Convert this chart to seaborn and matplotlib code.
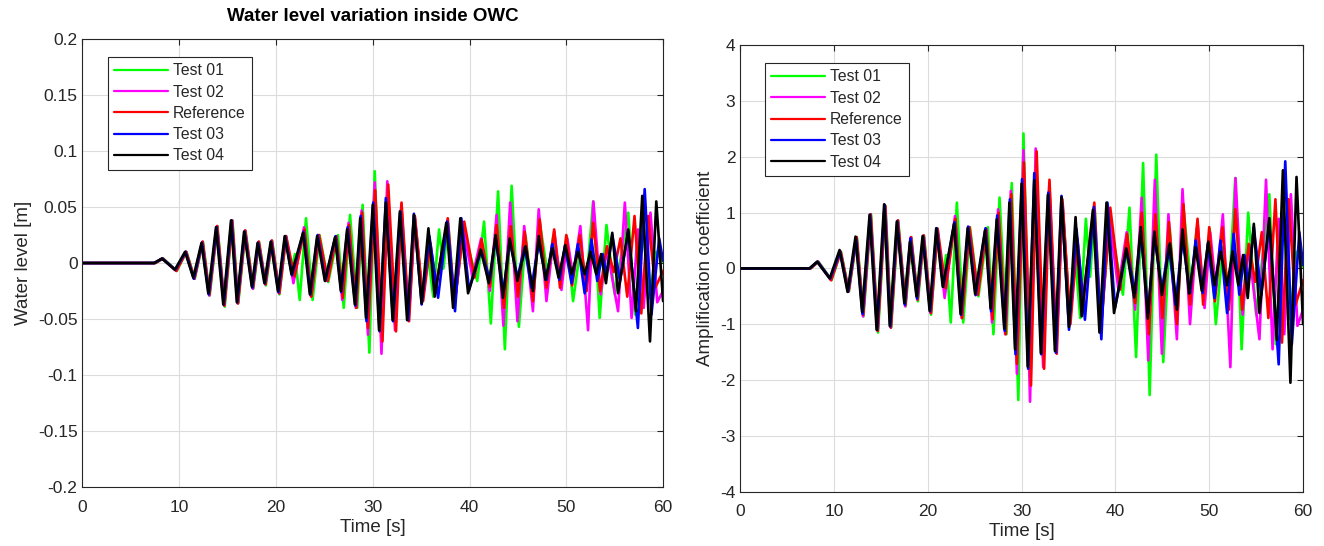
import pandas as pd
import matplotlib
matplotlib.use('Agg')
import matplotlib.pyplot as plt
import seaborn as sns

# series names and colours (MATLAB style)
names = ['Test 01', 'Test 02', 'Reference', 'Test 03', 'Test 04']
colors = ['#00ff00', '#ff00ff', '#ff0000', '#0000ff', '#000000']

# times of the crests / troughs [s]
t_test01 = [0, 7.55, 8.35, 9.75, 10.75, 11.6, 12.45, 13.15, 13.95, 14.7,
            15.5, 16.1, 16.85, 17.65, 18.25, 18.95, 19.6, 20.35, 21.05, 21.6,
            21.95, 22.45, 23.1, 23.78, 24.5, 25.4, 26.4, 27.0, 27.65, 28.4,
            28.95, 29.65, 30.2, 30.85, 31.5, 32.3, 32.95, 33.7, 34.35, 35.15,
            35.7, 36.25, 36.85, 37.3, 37.8, 38.45, 39.4, 40.2, 40.8, 41.5,
            42.2, 42.95, 43.65, 44.35, 45.1, 45.8, 46.55, 47.25, 48.1, 48.65,
            49.5, 50.05, 50.7, 51.45, 52.1, 52.77, 53.45, 54.15, 55.0, 56.4,
            57.1, 57.9, 58.6, 59.3, 60.0]
t_test02 = [0, 7.5, 8.28, 9.68, 10.7, 11.55, 12.4, 13.1, 13.9, 14.65,
            15.45, 16.05, 16.8, 17.6, 18.2, 18.9, 19.55, 20.3, 21.0, 21.8,
            22.9, 23.62, 24.4, 25.3, 26.2, 26.85, 27.5, 28.25, 28.85, 29.5,
            30.2, 30.9, 31.5, 32.3, 32.95, 33.7, 34.35, 35.15, 35.9, 36.5,
            37.7, 38.45, 39.35, 40.3, 41.2, 42.1, 42.8, 43.5, 44.2, 44.95,
            45.65, 46.55, 47.15, 47.95, 48.75, 49.5, 50.1, 50.7, 51.45, 52.25,
            52.8, 53.55, 54.2, 55.35, 56.05, 56.75, 57.4, 58.0, 58.7, 59.4,
            60.0]
t_ref = [0, 7.5, 8.3, 9.7, 10.72, 11.57, 12.42, 13.12, 13.92, 14.67,
         15.47, 16.07, 16.82, 17.62, 18.22, 18.92, 19.57, 20.35, 21.05, 21.9,
         22.95, 23.65, 24.45, 25.35, 26.25, 26.9, 27.55, 28.3, 28.9, 29.5,
         30.25, 31.0, 31.6, 32.4, 32.97, 33.75, 34.35, 35.2, 35.95, 36.55,
         37.75, 38.45, 39.45, 40.5, 41.25, 42.1, 42.8, 43.55, 44.25, 45.0,
         45.7, 46.55, 47.25, 47.95, 48.75, 49.35, 50.0, 50.6, 51.4, 52.1,
         52.8, 53.5, 54.2, 54.9, 55.6, 56.3, 57.05, 57.75, 58.45, 59.2,
         60.0]
t_test03 = [0, 7.4, 8.25, 9.6, 10.65, 11.5, 12.35, 13.05, 13.85, 14.6,
            15.4, 16.0, 16.75, 17.55, 18.15, 18.85, 19.5, 20.25, 20.95, 21.65,
            22.85, 23.55, 24.3, 25.1, 26.15, 26.75, 27.4, 28.2, 28.75, 29.35,
            30.05, 30.7, 31.35, 32.1, 32.85, 33.65, 34.25, 35.05, 35.85, 36.75,
            37.7, 38.5, 39.15, 39.95, 41.2, 42.1, 42.7, 43.5, 44.15, 44.95,
            45.7, 46.4, 47.15, 47.95, 48.55, 49.3, 49.85, 50.55, 51.2, 51.9,
            52.6, 53.2, 53.75, 54.15, 54.75, 55.55, 56.4, 57.4, 58.1, 58.8,
            59.6, 60.0]
t_test04 = [0, 7.4, 8.2, 9.55, 10.6, 11.45, 12.3, 13.0, 13.8, 14.55,
            15.35, 15.95, 16.7, 17.5, 18.1, 18.8, 19.45, 20.2, 20.9, 21.6,
            22.8, 23.5, 24.25, 25.05, 26.1, 26.7, 27.35, 28.15, 28.7, 29.3,
            30.0, 30.65, 31.35, 32.05, 32.8, 33.55, 34.25, 35.05, 35.75, 36.4,
            37.6, 38.3, 39.05, 39.85, 41.15, 42.0, 42.7, 43.45, 44.15, 44.95,
            45.8, 46.55, 47.15, 47.85, 48.55, 49.2, 49.9, 50.55, 51.2, 51.9,
            52.5, 53.1, 53.6, 54.1, 54.75, 55.35, 56.4, 57.2, 57.85, 58.65,
            59.3, 60.0]

# water level inside the OWC [m]
wl_test01 = [0, 0, 0.004, -0.007, 0.010, -0.014, 0.019, -0.029, 0.033, -0.039,
             0.038, -0.036, 0.029, -0.023, 0.019, -0.020, 0.020, -0.028, 0.024, -0.008,
             0.008, -0.033, 0.040, -0.033, 0.025, -0.017, 0.025, -0.040, 0.043, -0.040,
             0.052, -0.080, 0.082, -0.062, 0.062, -0.055, 0.050, -0.048, 0.040, -0.030,
             0.008, -0.030, 0.030, -0.005, 0.035, -0.036, 0.030, 0.003, -0.016, 0.037,
             -0.054, 0.064, -0.077, 0.069, -0.057, 0.024, -0.034, 0.037, -0.012, 0.024,
             -0.016, 0.024, -0.034, 0.013, -0.015, 0.055, -0.049, 0.034, -0.028, 0.045,
             -0.046, 0.034, -0.031, 0.010, 0.001]
wl_test02 = [0, 0, 0.004, -0.007, 0.010, -0.014, 0.019, -0.029, 0.033, -0.038,
             0.038, -0.036, 0.029, -0.023, 0.019, -0.019, 0.020, -0.027, 0.024, -0.018,
             0.032, -0.030, 0.024, -0.016, 0.023, -0.033, 0.036, -0.040, 0.047, -0.064,
             0.072, -0.081, 0.073, -0.060, 0.052, -0.050, 0.040, -0.032, 0.016, -0.020,
             0.034, -0.036, 0.030, -0.012, 0.022, -0.025, 0.043, -0.056, 0.054, -0.052,
             0.033, -0.043, 0.048, -0.034, 0.028, -0.024, 0.022, -0.012, 0.033, -0.060,
             0.055, -0.028, 0.013, -0.043, 0.054, -0.049, 0.030, -0.040, 0.045, -0.035,
             -0.025]
wl_ref = [0, 0, 0.004, -0.007, 0.010, -0.014, 0.019, -0.028, 0.033, -0.038,
          0.038, -0.036, 0.029, -0.022, 0.019, -0.019, 0.020, -0.027, 0.024, -0.012,
          0.030, -0.030, 0.025, -0.016, 0.024, -0.031, 0.034, -0.040, 0.045, -0.058,
          0.065, -0.070, 0.070, -0.061, 0.054, -0.052, 0.042, -0.034, 0.018, -0.022,
          0.040, -0.038, 0.037, -0.013, 0.021, -0.021, 0.034, -0.040, 0.033, -0.030,
          0.028, -0.034, 0.039, -0.022, 0.030, -0.022, 0.025, -0.020, 0.025, -0.025,
          0.036, -0.025, 0.015, -0.008, 0.022, -0.030, 0.042, -0.045, 0.042, -0.022,
          -0.007]
wl_test03 = [0, 0, 0.004, -0.006, 0.010, -0.014, 0.018, -0.028, 0.032, -0.037,
             0.038, -0.035, 0.028, -0.022, 0.018, -0.018, 0.019, -0.026, 0.024, -0.011,
             0.028, -0.028, 0.025, -0.016, 0.024, -0.026, 0.032, -0.038, 0.042, -0.052,
             0.054, -0.061, 0.058, -0.052, 0.046, -0.051, 0.044, -0.037, 0.024, -0.031,
             0.037, -0.043, 0.040, -0.024, 0.011, -0.015, 0.022, -0.027, 0.020, -0.013,
             0.014, -0.022, 0.018, -0.015, 0.017, -0.015, 0.015, -0.018, 0.017, -0.027,
             0.021, -0.016, 0.008, -0.010, 0.025, -0.016, 0.028, -0.058, 0.066, -0.046,
             0.022, 0.002]
wl_test04 = [0, 0, 0.004, -0.006, 0.010, -0.013, 0.018, -0.027, 0.032, -0.037,
             0.038, -0.035, 0.028, -0.021, 0.018, -0.018, 0.019, -0.025, 0.024, -0.010,
             0.027, -0.028, 0.024, -0.016, 0.023, -0.025, 0.030, -0.037, 0.040, -0.049,
             0.052, -0.060, 0.054, -0.051, 0.046, -0.051, 0.043, -0.036, 0.031, -0.030,
             0.036, -0.040, 0.040, -0.027, 0.012, -0.018, 0.025, -0.031, 0.022, -0.016,
             0.015, -0.025, 0.024, -0.015, 0.013, -0.013, 0.016, -0.010, 0.010, -0.010,
             0.010, -0.010, 0.008, -0.018, 0.027, -0.027, 0.030, -0.043, 0.060, -0.070,
             0.055, -0.034]

# amplification coefficient [-]
ac_test01 = [0, 0, 0.12, -0.21, 0.30, -0.41, 0.56, -0.86, 0.97, -1.15,
             1.12, -1.06, 0.86, -0.68, 0.56, -0.59, 0.59, -0.83, 0.71, -0.24,
             0.24, -0.97, 1.18, -0.97, 0.74, -0.50, 0.74, -1.18, 1.27, -1.18,
             1.53, -2.36, 2.42, -1.83, 1.83, -1.62, 1.48, -1.42, 1.18, -0.89,
             0.24, -0.89, 0.89, -0.15, 1.03, -1.06, 0.89, 0.09, -0.47, 1.09,
             -1.59, 1.89, -2.27, 2.04, -1.68, 0.71, -1.00, 1.09, -0.35, 0.71,
             -0.47, 0.71, -1.00, 0.38, -0.44, 1.62, -1.45, 1.00, -0.83, 1.33,
             -1.36, 1.00, -0.91, 0.30, 0.03]
ac_test02 = [0, 0, 0.12, -0.21, 0.30, -0.41, 0.56, -0.86, 0.97, -1.12,
             1.12, -1.06, 0.86, -0.68, 0.56, -0.56, 0.59, -0.80, 0.71, -0.53,
             0.94, -0.89, 0.71, -0.47, 0.68, -0.97, 1.06, -1.18, 1.39, -1.89,
             2.12, -2.39, 2.15, -1.77, 1.53, -1.48, 1.18, -0.94, 0.47, -0.59,
             1.00, -1.06, 0.89, -0.35, 0.65, -0.74, 1.27, -1.65, 1.59, -1.53,
             0.97, -1.27, 1.42, -1.00, 0.83, -0.71, 0.65, -0.35, 0.97, -1.77,
             1.62, -0.83, 0.38, -1.27, 1.59, -1.45, 0.89, -1.18, 1.33, -1.03,
             -0.74]
ac_ref = [0, 0, 0.12, -0.21, 0.30, -0.41, 0.56, -0.83, 0.97, -1.12,
          1.12, -1.06, 0.86, -0.65, 0.56, -0.56, 0.59, -0.80, 0.71, -0.35,
          0.89, -0.89, 0.74, -0.47, 0.71, -0.91, 1.00, -1.18, 1.33, -1.71,
          1.90, -2.10, 2.10, -1.80, 1.59, -1.53, 1.24, -1.00, 0.53, -0.65,
          1.18, -1.12, 1.09, -0.38, 0.62, -0.62, 1.00, -1.18, 0.97, -0.89,
          0.83, -1.00, 1.15, -0.65, 0.89, -0.65, 0.74, -0.59, 0.74, -0.74,
          1.06, -0.74, 0.44, -0.24, 0.65, -0.89, 1.24, -1.33, 1.24, -0.65,
          -0.21]
ac_test03 = [0, 0, 0.12, -0.18, 0.30, -0.42, 0.54, -0.82, 0.96, -1.10,
             1.14, -1.04, 0.84, -0.65, 0.54, -0.54, 0.57, -0.77, 0.72, -0.33,
             0.83, -0.83, 0.75, -0.48, 0.72, -0.77, 0.95, -1.12, 1.24, -1.54,
             1.60, -1.80, 1.71, -1.54, 1.36, -1.51, 1.30, -1.10, 0.71, -0.92,
             1.10, -1.27, 1.18, -0.71, 0.33, -0.44, 0.65, -0.80, 0.59, -0.38,
             0.41, -0.65, 0.53, -0.44, 0.50, -0.44, 0.44, -0.53, 0.50, -0.80,
             0.62, -0.47, 0.24, -0.30, 0.74, -0.47, 0.83, -1.72, 1.92, -1.36,
             0.65, 0.06]
ac_test04 = [0, 0, 0.12, -0.18, 0.33, -0.42, 0.57, -0.78, 0.96, -1.10,
             1.15, -1.03, 0.84, -0.62, 0.48, -0.50, 0.58, -0.76, 0.72, -0.33,
             0.80, -0.82, 0.72, -0.46, 0.68, -0.72, 0.88, -1.08, 1.18, -1.45,
             1.52, -1.76, 1.58, -1.52, 1.32, -1.48, 1.28, -1.05, 0.92, -0.86,
             1.05, -1.15, 1.18, -0.80, 0.36, -0.52, 0.74, -0.90, 0.66, -0.48,
             0.45, -0.74, 0.70, -0.45, 0.38, -0.40, 0.48, -0.30, 0.30, -0.30,
             0.30, -0.30, 0.24, -0.53, 0.80, -0.80, 0.90, -1.28, 1.76, -2.05,
             1.64, -1.00]

times = [t_test01, t_test02, t_ref, t_test03, t_test04]
levels = [wl_test01, wl_test02, wl_ref, wl_test03, wl_test04]
coefs = [ac_test01, ac_test02, ac_ref, ac_test03, ac_test04]

wl_ticks = [-0.2, -0.15, -0.1, -0.05, 0, 0.05, 0.1, 0.15, 0.2]
wl_labels = ['-0.2', '-0.15', '-0.1', '-0.05', '0', '0.05', '0.1', '0.15', '0.2']
ac_ticks = [-4, -3, -2, -1, 0, 1, 2, 3, 4]
x_ticks = [0, 10, 20, 30, 40, 50, 60]


def long_table(values):
    parts = []
    for name, t, v in zip(names, times, values):
        assert len(t) == len(v), (name, len(t), len(v))
        parts.append(pd.DataFrame({'t': t, 'v': v, 'series': name}))
    return pd.concat(parts, ignore_index=True)


sns.set_style('white')
plt.rcParams['font.family'] = ['Liberation Sans', 'DejaVu Sans']
plt.rcParams['axes.unicode_minus'] = False

fig = plt.figure(figsize=(13.24, 5.46), dpi=100)
ax1 = fig.add_axes([0.0623, 0.108, 0.4385, 0.8205])
ax2 = fig.add_axes([0.559, 0.0998, 0.4252, 0.8172])

dark = '#262626'
for ax, values in [(ax1, levels), (ax2, coefs)]:
    df = long_table(values)
    sns.lineplot(data=df, x='t', y='v', hue='series', hue_order=names,
                 palette=dict(zip(names, colors)), estimator=None,
                 linewidth=1.9, ax=ax)
    leg = ax.get_legend()
    handles = leg.legend_handles
    labels = [tx.get_text() for tx in leg.get_texts()]
    leg.remove()
    for h in handles:
        h.set_linewidth(1.6)
    ax.legend(handles, labels, loc='upper left', bbox_to_anchor=(0.044, 0.96),
              borderaxespad=0, fontsize=11.3, frameon=True, fancybox=False,
              edgecolor=dark, framealpha=1, handlelength=3.4,
              handletextpad=0.35, labelspacing=0.4, borderpad=0.4)
    ax.get_legend().get_frame().set_linewidth(0.8)
    ax.set_xlim(0, 60)
    ax.set_xticks(x_ticks)
    ax.grid(True, color='#dcdcdc', linewidth=0.8)
    ax.set_axisbelow(True)
    ax.tick_params(direction='in', top=True, right=True, length=4, width=0.8,
                   colors=dark, labelsize=12.5)
    ax.tick_params(axis='x', pad=9)
    for s in ax.spines.values():
        s.set_color(dark)
        s.set_linewidth(0.8)
    ax.set_xlabel('Time [s]', fontsize=13.5, color=dark, labelpad=3)

ax1.set_ylim(-0.2, 0.2)
ax1.set_yticks(wl_ticks)
ax1.set_yticklabels(wl_labels)
ax1.set_ylabel('Water level [m]', fontsize=13.5, color=dark)
ax1.set_title('Water level variation inside OWC', fontsize=13.5,
              fontweight='bold', color='black', pad=13)

ax2.set_ylim(-4, 4)
ax2.set_yticks(ac_ticks)
ax2.set_ylabel('Amplification coefficient', fontsize=13.5, color=dark)

fig.savefig('out.png', dpi=100)
